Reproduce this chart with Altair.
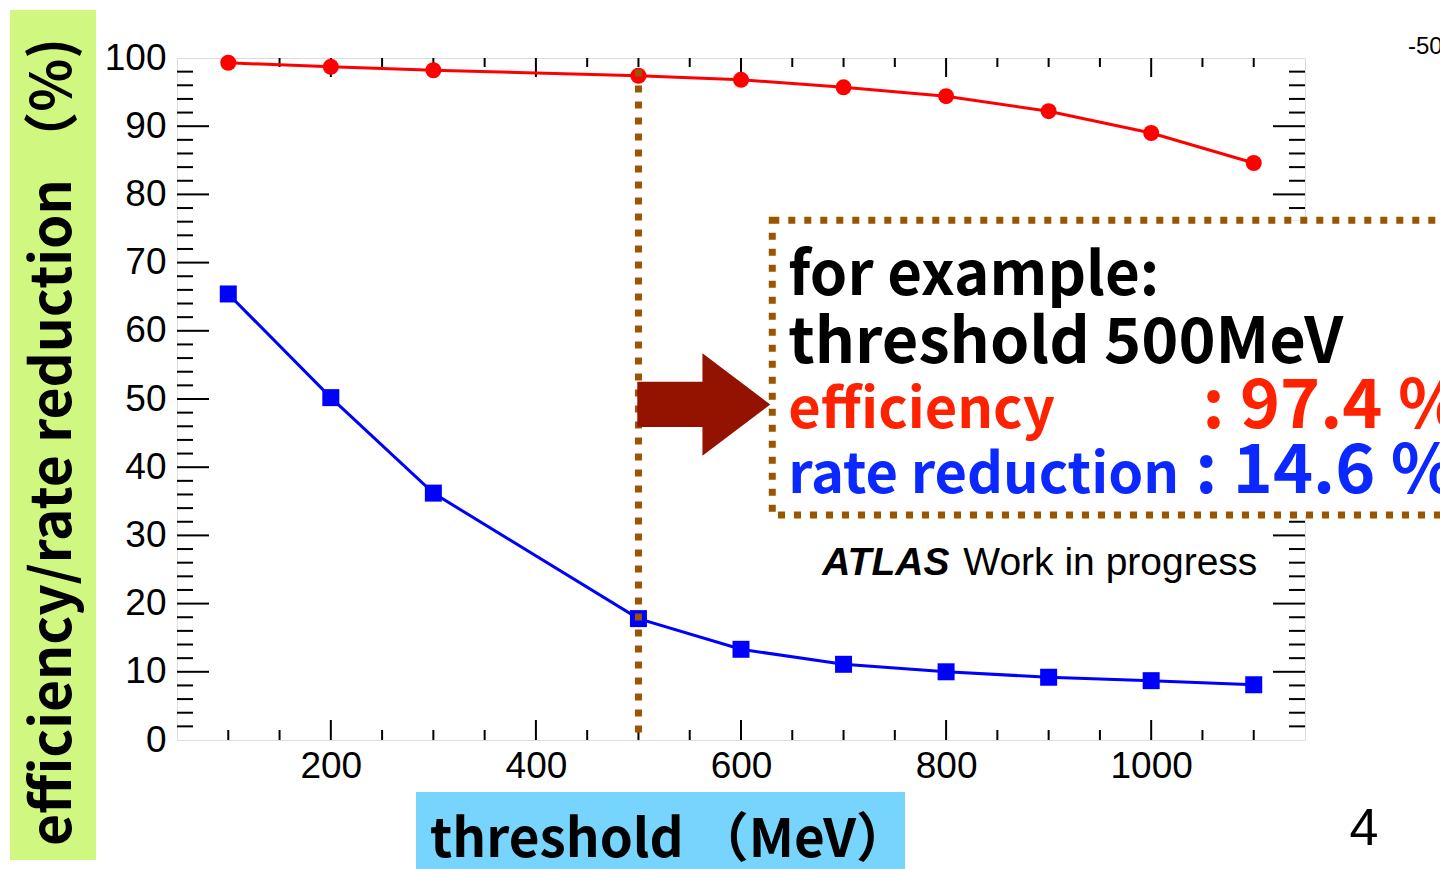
import altair as alt
import pandas as pd

# ---------------- data ----------------
threshold = [100, 200, 300, 500, 600, 700, 800, 900, 1000, 1100]
efficiency = [99.3, 98.7, 98.2, 97.4, 96.8, 95.7, 94.4, 92.2, 89.0, 84.6]
rate_reduction = [65.4, 50.2, 36.2, 17.8, 13.3, 11.1, 10.0, 9.2, 8.7, 8.1]

x_labels = [200, 400, 600, 800, 1000]
y_labels = [0, 10, 20, 30, 40, 50, 60, 70, 80, 90, 100]
x_major = [200, 400, 600, 800, 1000]
x_minor = [100, 150, 250, 300, 350, 450, 500, 550, 650, 700, 750, 850, 900, 950, 1050, 1100]
y_major = [10, 20, 30, 40, 50, 60, 70, 80, 90]
y_minor = [v for v in range(2, 100, 2) if v % 10 != 0]

cut_threshold = [500]
cut_range = [98.3, 1.0]

note_line1 = ["for example:"]
note_line2 = ["threshold 500MeV"]
eff_label = ["efficiency"]
eff_value = [": 97.4 %"]
rr_label = ["rate reduction"]
rr_value = [": 14.6 %"]

x_title = "threshold （MeV）"
y_title = "efficiency/rate reduction （%)"

W, H = 1128, 682
L, T = 177, 58

df = pd.DataFrame({"threshold": threshold, "efficiency": efficiency, "rate": rate_reduction})

XS = alt.Scale(domain=[50, 1150], nice=False, zero=False)
YS = alt.Scale(domain=[0, 100], nice=False, zero=False)
XA = alt.Axis(values=x_labels, title=None, ticks=False, tickSize=0, domain=False, grid=False, format="d",
              labelPadding=8, labelFontSize=37, labelFont="Liberation Sans", labelColor="black")
YA = alt.Axis(values=y_labels, title=None, ticks=False, tickSize=0, domain=False, grid=False, format="d",
              labelPadding=11, labelFontSize=37, labelFont="Liberation Sans", labelColor="black")


def X(f):
    return alt.X(f, type="quantitative", scale=XS, axis=XA)


def Y(f):
    return alt.Y(f, type="quantitative", scale=YS, axis=YA)


def one(text):
    return pd.DataFrame({"t": [text]})


layers = []

# outside decorations (title backgrounds)
layers.append(alt.Chart(one("")).mark_rect(color="#d0f880").encode(
    x=alt.value(10 - L), x2=alt.value(96 - L), y=alt.value(10 - T), y2=alt.value(860 - T)))
layers.append(alt.Chart(one("")).mark_rect(color="#77d5fd").encode(
    x=alt.value(416 - L), x2=alt.value(905 - L), y=alt.value(792 - T), y2=alt.value(880 - T)))

# ticks (ROOT-style, inward on all four sides)
xmaj = pd.DataFrame({"v": x_major})
xmin = pd.DataFrame({"v": x_minor})
ymaj = pd.DataFrame({"v": y_major})
ymin = pd.DataFrame({"v": y_minor})
tk = dict(color="black", strokeWidth=2)
layers += [
    alt.Chart(xmaj).mark_rule(**tk).encode(x=X("v"), y=alt.value(H), y2=alt.value(H - 20)),
    alt.Chart(xmin).mark_rule(**tk).encode(x=X("v"), y=alt.value(H), y2=alt.value(H - 10)),
    alt.Chart(xmaj).mark_rule(**tk).encode(x=X("v"), y=alt.value(0), y2=alt.value(19)),
    alt.Chart(xmin).mark_rule(**tk).encode(x=X("v"), y=alt.value(0), y2=alt.value(9)),
    alt.Chart(ymaj).mark_rule(**tk).encode(y=Y("v"), x=alt.value(0), x2=alt.value(32)),
    alt.Chart(ymin).mark_rule(**tk).encode(y=Y("v"), x=alt.value(0), x2=alt.value(16)),
    alt.Chart(ymaj).mark_rule(**tk).encode(y=Y("v"), x=alt.value(W - 32), x2=alt.value(W)),
    alt.Chart(ymin).mark_rule(**tk).encode(y=Y("v"), x=alt.value(W - 16), x2=alt.value(W)),
]

# data
layers += [
    alt.Chart(df).mark_line(color="#ff0000", strokeWidth=3).encode(x=X("threshold"), y=Y("efficiency")),
    alt.Chart(df).mark_point(shape="circle", filled=True, opacity=1, color="#ff0000", size=256).encode(
        x=X("threshold"), y=Y("efficiency")),
    alt.Chart(df).mark_line(color="#0000ff", strokeWidth=3).encode(x=X("threshold"), y=Y("rate")),
    alt.Chart(df).mark_point(shape="square", filled=True, opacity=1, color="#0000ff", size=289).encode(
        x=X("threshold"), y=Y("rate")),
]

# dotted cut line
cut = pd.DataFrame({"x": cut_threshold, "y1": [cut_range[0]], "y2": [cut_range[1]]})
layers.append(alt.Chart(cut).mark_rule(color="#9a5500", strokeWidth=7, strokeDash=[7, 9], strokeCap="butt").encode(
    x=X("x"), y=Y("y1"), y2="y2"))

# arrow
arrow_path = "M-1,-0.34 L-0.02,-0.34 L-0.02,-0.77 L1,0 L-0.02,0.77 L-0.02,0.34 L-1,0.34 Z"
arr = pd.DataFrame({"x": [563.7], "y": [49.2]})
layers.append(alt.Chart(arr).mark_point(shape=arrow_path, filled=True, opacity=1, color="#931200",
                                        size=133 * 133, strokeWidth=0).encode(x=X("x"), y=Y("y")))

# note box
box = pd.DataFrame({"x1": [630.5], "x2": [1320], "y1": [76.2], "y2": [33.0]})
layers.append(alt.Chart(box).mark_rect(fill="white", stroke="#9a5500", strokeWidth=7, strokeDash=[7, 9]).encode(
    x=X("x1"), x2="x2", y=Y("y1"), y2="y2"))

BIG = "Noto Sans CJK JP"


def note(text, x, y, color, size):
    d = pd.DataFrame({"t": text, "x": [x], "y": [y]})
    return alt.Chart(d).mark_text(font=BIG, fontWeight="bold", fontSize=size, align="left",
                                  baseline="alphabetic", color=color).encode(x=X("x"), y=Y("y"), text="t:N")


layers += [
    note(note_line1, 646.1, 65.3, "black", 60),
    note(note_line2, 646.1, 55.3, "black", 63),
    note(eff_label, 646.1, 45.7, "#ff2200", 56),
    note(eff_value, 1050, 45.7, "#ff2200", 68),
    note(rr_label, 646.1, 36.2, "#0a28ff", 56),
    note(rr_value, 1043, 36.2, "#0a28ff", 68),
]

# ATLAS label
layers.append(alt.Chart(pd.DataFrame({"t": ["ATLAS"], "x": [679.3], "y": [24.2]})).mark_text(
    font="Liberation Sans", fontWeight="bold", fontStyle="italic", fontSize=39, align="left", baseline="alphabetic",
    color="black").encode(x=X("x"), y=Y("y"), text="t:N"))
layers.append(alt.Chart(pd.DataFrame({"t": ["Work in progress"], "x": [816.8], "y": [24.2]})).mark_text(
    font="Liberation Sans", fontSize=39, align="left", baseline="alphabetic",
    color="black").encode(x=X("x"), y=Y("y"), text="t:N"))

# axis titles
layers.append(alt.Chart(one(x_title)).mark_text(font=BIG, fontWeight="bold", fontSize=53, align="left",
                                               baseline="alphabetic", color="black").encode(
    x=alt.value(430 - L), y=alt.value(857 - T), text="t:N"))
layers.append(alt.Chart(one(y_title)).mark_text(font=BIG, fontWeight="bold", fontSize=55, align="center",
                                               baseline="middle", angle=270, color="black").encode(
    x=alt.value(54 - L), y=alt.value(442 - T), text="t:N"))

# page decorations
layers.append(alt.Chart(one("-50")).mark_text(font="Liberation Sans", fontSize=24, align="left",
                                             baseline="alphabetic", color="black").encode(
    x=alt.value(1408 - L), y=alt.value(54 - T), text="t:N"))
layers.append(alt.Chart(one("4")).mark_text(font="Liberation Sans", fontSize=52, align="center",
                                           baseline="alphabetic", color="black").encode(
    x=alt.value(1364 - L), y=alt.value(845 - T), text="t:N"))

chart = alt.layer(*layers).properties(
    width=W, height=H, autosize="none",
    padding={"left": L, "top": T, "right": 1440 - L - W, "bottom": 869 - T - H},
).configure_view(stroke="black", strokeWidth=2.5).configure(background="white")

chart.save("out.html", embed_options={"renderer": "svg", "actions": False})
